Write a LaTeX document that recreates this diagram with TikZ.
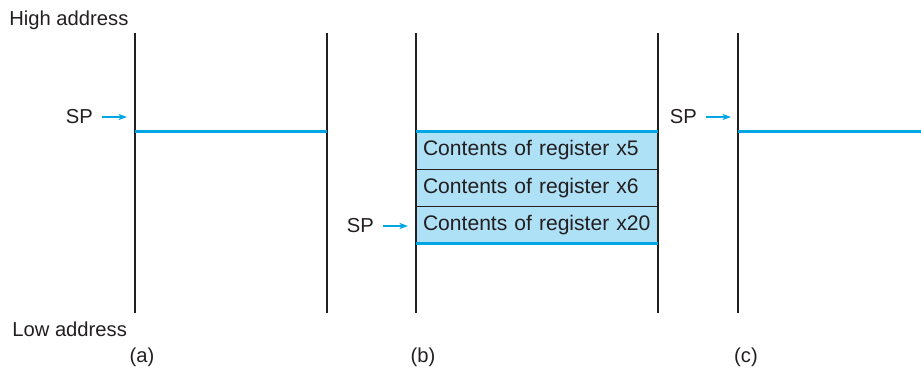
\documentclass[tikz,border=0pt]{standalone}
\usepackage{fontspec}
\setsansfont{Liberation Sans}
\usetikzlibrary{arrows.meta,positioning}
\definecolor{spBlue}{HTML}{00A6E4}
\definecolor{regFill}{HTML}{AEE0F6}
\definecolor{textMain}{HTML}{231F20}

\begin{document}
\begin{tikzpicture}[
    x=0.02cm, y=-0.02cm,
    font=\sffamily\fontsize{11.5}{14}\selectfont,
    text=textMain,
    >=Stealth,
    wall/.style={draw=textMain, line width=0.7pt},
    spLine/.style={draw=spBlue, line width=1.7pt},
    spArrow/.style={-{Stealth[length=5pt,width=3.6pt]}, draw=spBlue, line width=0.7pt},
    regBox/.style={
        rectangle, draw=textMain, line width=0.5pt,
        fill=regFill,
        font=\sffamily\fontsize{12}{14}\selectfont,
        minimum width=4.84cm, minimum height=0.75cm,
        text width=4.56cm, inner xsep=0.14cm, inner ysep=0pt,
        outer sep=0pt, align=left
    },
    spLabel/.style={anchor=east, inner xsep=5pt, inner ysep=0pt},
    caption/.style={anchor=base, inner sep=0pt},
    addr/.style={anchor=base west, inner sep=0pt}
]
\useasboundingbox (0,0) rectangle (921,368);

% address labels
\node[addr] (HighAddr) at (9,26) {High address};
\node[addr] (LowAddr) at (12,337) {Low address};

% (a) before the call
\coordinate (aLeft) at (135,131.5);
\coordinate (aRight) at (327,131.5);
\draw[wall] (135,33) -- (135,313);
\draw[wall] (327,33) -- (327,313);
\draw[spLine] (aLeft) -- (aRight);
\node[spLabel] (SPa) at (102,117) {SP};
\coordinate (SPaTip) at (127,117);
\draw[spArrow] (SPa.east) -- (SPaTip);
\node[caption] (CapA) at (142,362) {(a)};

% (b) during the call: three saved registers
\node[regBox] (RegXfive) at (537,150.25) {Contents of register x5};
\node[regBox, below=0pt of RegXfive] (RegXsix) {Contents of register x6};
\node[regBox, below=0pt of RegXsix] (RegXtwenty) {Contents of register x20};
\draw[wall] (416,33) -- (416,313);
\draw[wall] (658,33) -- (658,313);
\draw[spLine] (RegXfive.north west) -- (RegXfive.north east);
\draw[spLine] (RegXtwenty.south west) -- (RegXtwenty.south east);
\node[spLabel] (SPb) at (383,226) {SP};
\coordinate (SPbTip) at (408,226);
\draw[spArrow] (SPb.east) -- (SPbTip);
\node[caption] (CapB) at (423,362) {(b)};

% (c) after the call
\coordinate (cLeft) at (738,131.5);
\coordinate (cRight) at (921,131.5);
\draw[wall] (738,33) -- (738,313);
\draw[spLine] (cLeft) -- (cRight);
\node[spLabel] (SPc) at (706,117) {SP};
\coordinate (SPcTip) at (731,117);
\draw[spArrow] (SPc.east) -- (SPcTip);
\node[caption] (CapC) at (746,362) {(c)};

\end{tikzpicture}
\end{document}
